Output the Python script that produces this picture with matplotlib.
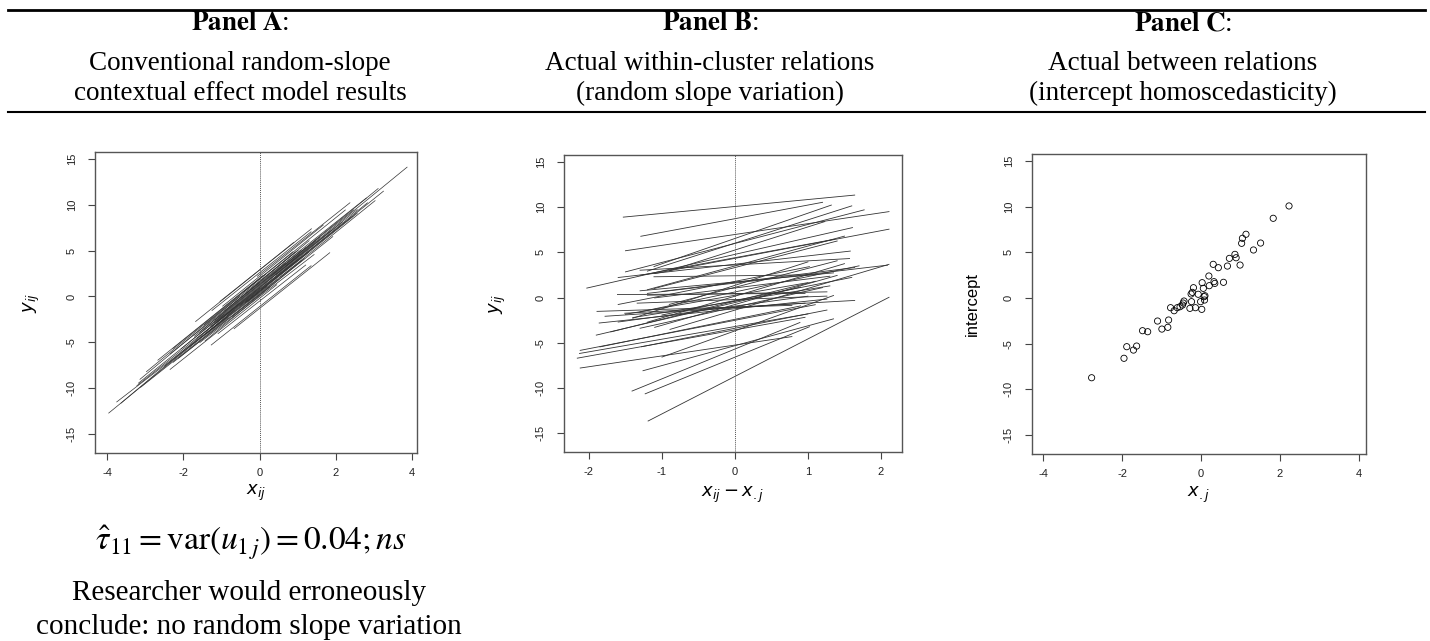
import matplotlib
matplotlib.use('Agg')
import matplotlib.pyplot as plt
from matplotlib.lines import Line2D

plt.rcParams['mathtext.fontset'] = 'dejavusans'

# ---- data ----
# Panel C: cluster means of x and cluster intercepts (one per cluster)
xbar = [-2.77, -1.95, -1.71, -1.88, -1.63, -1.35, -1.48, -0.99, -0.84, -1.10,
        -0.82, -0.68, 0.02, -0.28, -0.77, -0.60, -0.14, -0.53, -0.47, -0.45,
        -0.24, -0.01, -0.43, 0.09, 0.08, 0.10, -0.07, -0.25, -0.22, 0.06,
        -0.19, 0.21, 0.35, 0.03, 0.57, 0.33, 0.20, 0.44, 0.67, 0.99,
        0.31, 0.89, 0.72, 0.86, 1.33, 1.03, 1.51, 1.05, 1.14, 1.83, 2.23]
intercept = [-8.73, -6.60, -5.70, -5.33, -5.26, -3.69, -3.58, -3.40, -3.21, -2.52,
             -2.41, -1.39, -1.24, -1.13, -1.06, -1.06, -1.06, -0.95, -0.77, -0.55,
             -0.40, -0.40, -0.33, -0.22, 0.15, 0.25, 0.41, 0.44, 0.62, 1.06,
             1.13, 1.35, 1.60, 1.68, 1.72, 1.79, 2.41, 3.32, 3.50, 3.61,
             3.69, 4.41, 4.34, 4.78, 5.26, 5.99, 6.02, 6.54, 6.98, 8.73, 10.08]

# Panel B: within-cluster range of x_ij - x_.j and within slope
b_lo = [-1.19, -1.23, -1.41, -1.26, -2.12, -1.00, -2.16, -1.28, -2.13, -2.12,
        -1.85, -0.89, -1.86, -1.78, -1.51, -1.89, -1.30, -1.60, -1.10, -1.90,
        -1.40, -1.70, -1.00, -1.34, -1.20, -1.50, -1.61, -1.20, -1.30, -1.10,
        -0.90, -1.40, -1.20, -1.00, -1.30, -1.60, -1.11, -1.11, -1.20, -1.30,
        -1.60, -1.30, -1.10, -2.03, -0.90, -1.50, -1.20, -1.11, -1.50, -1.29, -1.53]
b_hi = [2.11, 1.02, 0.89, 1.35, 0.78, 1.35, 0.96, 1.26, 1.00, 1.10,
        0.90, 2.11, 1.26, 0.96, 1.64, 0.78, 1.20, 1.00, 1.40, 0.90,
        1.30, 1.10, 1.60, 1.26, 1.50, 1.00, 0.96, 1.26, 1.70, 1.30,
        1.40, 1.00, 2.09, 1.64, 1.35, 1.02, 1.10, 1.40, 1.50, 1.57,
        1.58, 1.36, 2.11, 1.61, 1.23, 1.77, 1.60, 1.32, 2.11, 1.20, 1.64]
b_slope = [4.15, 3.30, 3.30, 2.20, 1.20, 2.90, 1.45, 1.60, 1.40, 1.57,
           1.65, 2.40, 0.85, 0.53, 0.45, 0.25, 1.80, 1.10, 2.30, 1.90,
           1.30, 2.00, 1.60, 0.30, 2.40, 1.40, 0.05, 0.15, 1.70, 1.00,
           2.10, 2.60, 0.95, 1.00, 0.75, 1.60, 0.10, 2.10, 2.20, 0.45,
           0.92, 1.50, 1.53, 1.84, 2.56, 2.10, 2.58, 2.80, 1.20, 1.51, 0.77]

# Panel A: fitted cluster lines from the conventional model
a_x0 = [-3.96, -3.18, -3.12, -3.14, -3.75, -2.35, -3.64, -2.27, -2.97, -3.22,
        -2.67, -1.57, -1.84, -2.06, -2.28, -2.49, -1.44, -2.13, -1.57, -2.35,
        -1.64, -1.71, -1.43, -1.25, -1.12, -1.40, -1.68, -1.45, -1.52, -1.04,
        -1.09, -1.19, -0.85, -0.97, -0.73, -1.27, -0.91, -0.67, -0.53, -0.31,
        -1.29, -0.41, -0.38, -1.17, 0.43, -0.47, 0.31, -0.06, -0.36, 0.54, 0.70]
a_x1 = [-0.66, -0.93, -0.82, -0.53, -0.85, 0.00, -0.52, 0.27, 0.16, 0.00,
        0.08, 1.43, 1.28, 0.68, 0.87, 0.18, 1.06, 0.47, 0.93, 0.45,
        1.06, 1.09, 1.17, 1.35, 1.58, 1.10, 0.89, 1.01, 1.48, 1.36,
        1.21, 1.21, 2.44, 1.67, 1.92, 1.35, 1.30, 1.84, 2.17, 2.56,
        1.89, 2.25, 2.83, 2.47, 2.56, 2.80, 3.11, 2.37, 3.25, 3.03, 3.87]
a_int = [0.75, 1.20, 0.40, 1.80, 0.50, 1.50, 1.10, 0.20, 1.90, 0.90,
         2.00, 0.00, 0.60, 1.30, 1.95, 0.50, 1.00, 0.30, 1.60, -0.20,
         0.80, 1.40, 0.10, 2.60, 1.10, 0.40, 2.90, 1.70, 0.90, 2.90,
         -0.50, 1.20, 0.70, 2.20, 0.20, -1.10, 1.60, -1.30, 0.75, 0.50,
         1.00, 1.90, 0.60, 1.30, 0.90, 1.50, 1.20, 2.40, 0.60, 0.30, 0.95]
a_slope = [3.40, 3.35, 3.30, 3.45, 3.20, 3.30, 3.50, 3.25, 3.40, 3.30,
           3.35, 3.20, 3.30, 3.40, 3.35, 3.25, 3.40, 3.30, 3.50, 3.30,
           3.25, 3.35, 3.45, 3.30, 3.40, 3.20, 3.35, 3.30, 3.50, 3.30,
           3.25, 3.40, 3.30, 3.35, 3.30, 3.30, 3.45, 3.30, 3.40, 3.35,
           3.30, 3.35, 3.40, 3.30, 3.35, 3.30, 3.40, 3.30, 3.35, 3.35, 3.40]

yticks = [-15, -10, -5, 0, 5, 10, 15]

W, H = 1430, 641
fig = plt.figure(figsize=(W / 100, H / 100), dpi=100)


def box(l, r, t, b):
    return [l / W, 1 - b / H, (r - l) / W, (b - t) / H]


def r_style(ax, xticks, xlim, ylim):
    ax.set_xlim(xlim)
    ax.set_ylim(ylim)
    ax.set_xticks(xticks)
    ax.set_yticks(yticks)
    ax.set_xticklabels([str(v) for v in xticks], fontsize=8, family='Liberation Sans', color='#222222')
    ax.set_yticklabels([str(v) for v in yticks], fontsize=8, family='Liberation Sans', color='#222222',
                       rotation=90, va='center')
    ax.tick_params(axis='both', direction='out', length=5, width=0.8, color='#444444')
    ax.tick_params(axis='x', pad=6)
    ax.tick_params(axis='y', pad=8)
    for s in ax.spines.values():
        s.set_color('#555555')
        s.set_linewidth(1.0)


# Panel A
axA = fig.add_axes(box(95, 417, 152, 453))
for x0, x1, a, b in zip(a_x0, a_x1, a_int, a_slope):
    axA.plot([x0, x1], [a + b * x0, a + b * x1], color='#333333', lw=0.5)
axA.axvline(0, color='#555555', lw=0.7, ls=(0, (1, 1)))
r_style(axA, [-4, -2, 0, 2, 4], (-4.32, 4.13), (-17.07, 15.76))
axA.set_ylabel(r'$y_{ij}$', fontsize=13)
axA.set_xlabel(r'$x_{ij}$', fontsize=13, va='center')
axA.yaxis.set_label_coords(-0.165, 0.5)
axA.xaxis.set_label_coords(0.5, -0.133)

# Panel B
axB = fig.add_axes(box(564, 902, 155, 452))
for c, lo, hi, s in zip(intercept, b_lo, b_hi, b_slope):
    axB.plot([lo, hi], [c + s * lo, c + s * hi], color='#333333', lw=0.6)
axB.axvline(0, color='#555555', lw=0.7, ls=(0, (1, 1)))
r_style(axB, [-2, -1, 0, 1, 2], (-2.342, 2.288), (-17.1, 15.78))
axB.set_ylabel(r'$y_{ij}$', fontsize=13)
axB.set_xlabel(r'$x_{ij} - x_{.j}$', fontsize=13, va='center')
axB.yaxis.set_label_coords(-0.166, 0.5)
axB.xaxis.set_label_coords(0.5, -0.145)

# Panel C
axC = fig.add_axes(box(1032, 1366, 154, 454))
axC.scatter(xbar, intercept, s=20, facecolors='none', edgecolors='black', linewidths=0.6)
r_style(axC, [-4, -2, 0, 2, 4], (-4.28, 4.18), (-17.08, 15.77))
axC.set_ylabel('intercept', fontsize=12, family='Liberation Sans')
axC.set_xlabel(r'$x_{.j}$', fontsize=13, va='center')
axC.yaxis.set_label_coords(-0.156, 0.5)
axC.xaxis.set_label_coords(0.5, -0.137)

# header rules and panel titles
fig.add_artist(Line2D([8 / W, 1425 / W], [1 - 10 / H, 1 - 10 / H], color='black', lw=2.0))
fig.add_artist(Line2D([8 / W, 1425 / W], [1 - 112 / H, 1 - 112 / H], color='black', lw=1.5))

serif = 'Liberation Serif'
heads = [
    (240, 'Panel A', 'Conventional random-slope', 'contextual effect model results'),
    (710, 'Panel B', 'Actual within-cluster relations', '(random slope variation)'),
    (1183, 'Panel C', 'Actual between relations', '(intercept homoscedasticity)'),
]
for cx, t1, t2, t3 in heads:
    fig.text(cx / W, 1 - 24 / H, r'$\mathbf{%s}$:' % t1.replace(' ', r'\ '), ha='center', va='center',
             family=serif, fontsize=19.5, math_fontfamily='stix')
    fig.text(cx / W, 1 - 63 / H, t2, ha='center', va='center', family=serif, fontsize=19.5)
    fig.text(cx / W, 1 - 93 / H, t3, ha='center', va='center', family=serif, fontsize=19.5)

# note under panel A
fig.text(251 / W, 1 - 543 / H, r'$\hat{\tau}_{11} = \mathrm{var}(u_{1\,j}) = 0.04;\mathit{ns}$',
         ha='center', va='center', fontsize=24, math_fontfamily='stix')
fig.text(249 / W, 1 - 593 / H, 'Researcher would erroneously', ha='center', va='center',
         family=serif, fontsize=21)
fig.text(249 / W, 1 - 627 / H, 'conclude: no random slope variation', ha='center', va='center',
         family=serif, fontsize=21)

fig.savefig('out.png', dpi=100)
